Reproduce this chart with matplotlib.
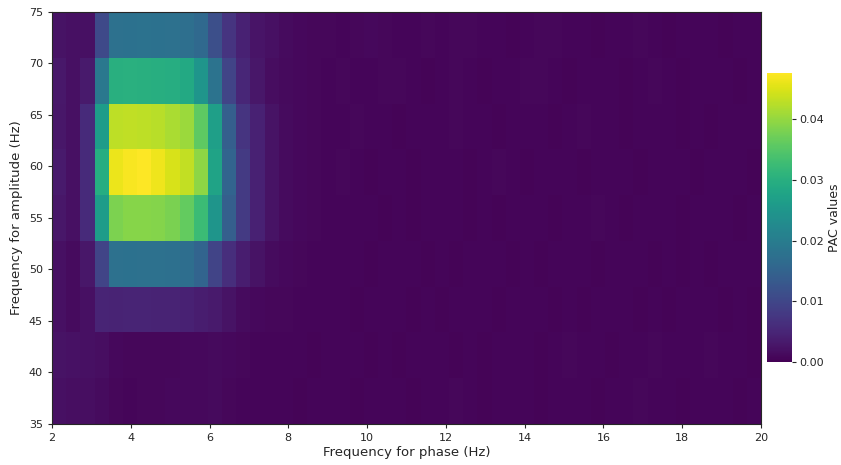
import numpy as np
import matplotlib
matplotlib.use("Agg")
import matplotlib.pyplot as plt

# comodulogram: PAC values (x1e-3), rows = amplitude bands (low -> high), cols = phase bins
pac_row0 = [1.9, 1.8, 1.7, 1.4, 0.8, 0.7, 0.8, 0.9, 1.0, 1.1, 1.0, 1.2, 0.9, 0.7, 0.6,
            0.7, 0.6, 0.5, 0.6, 0.7, 0.6, 0.5, 0.6, 0.7, 0.6, 0.5, 0.6, 0.7, 0.8, 0.6,
            0.5, 0.6, 0.7, 0.6, 0.5, 0.6, 0.7, 0.6, 0.5, 0.6, 0.7, 0.8, 0.7, 0.6, 0.5,
            0.6, 0.7, 0.6, 0.5, 0.6]
pac_row1 = [2.4, 2.2, 2.0, 1.8, 1.0, 0.9, 0.9, 0.8, 0.9, 1.0, 1.1, 1.2, 1.0, 0.8, 0.7,
            0.6, 0.7, 0.6, 0.5, 0.6, 0.7, 0.6, 0.5, 0.6, 0.5, 0.6, 0.7, 0.6, 0.5, 0.6,
            0.5, 0.6, 0.7, 0.6, 0.5, 0.6, 0.8, 0.7, 0.6, 0.5, 0.6, 0.7, 0.8, 0.7, 0.6,
            0.7, 0.8, 0.7, 0.6, 0.5]
pac_row2 = [1.9, 1.4, 1.9, 4.8, 4.6, 4.7, 4.7, 4.6, 4.5, 4.3, 3.8, 3.3, 2.4, 1.4, 1.0,
            0.9, 0.8, 0.7, 0.6, 0.7, 0.6, 0.5, 0.6, 0.7, 0.6, 0.5, 0.6, 0.5, 0.6, 0.7,
            0.6, 0.5, 0.6, 0.7, 0.6, 0.5, 0.6, 0.5, 0.6, 0.7, 0.6, 0.5, 0.6, 0.5, 0.6,
            0.7, 0.6, 0.5, 0.6, 0.5]
pac_row3 = [1.9, 1.4, 2.9, 9.5, 17.6, 17.7, 17.6, 17.5, 17.3, 17.0, 15.2, 9.5, 6.2, 3.8, 2.4,
            1.4, 1.0, 0.8, 0.7, 0.6, 0.7, 0.6, 0.5, 0.6, 0.7, 0.6, 0.5, 0.6, 0.5, 0.6,
            0.7, 0.6, 0.5, 0.6, 0.5, 0.6, 0.7, 0.6, 0.5, 0.6, 0.7, 0.6, 0.5, 0.6, 0.5,
            0.6, 0.5, 0.6, 0.7, 0.6]
pac_row4 = [2.9, 1.9, 5.7, 26.2, 38.3, 39.0, 39.0, 38.8, 38.1, 36.2, 32.4, 24.8, 14.3, 8.1, 4.3,
            2.4, 1.4, 1.0, 0.8, 0.7, 0.6, 0.7, 0.6, 0.5, 0.6, 0.5, 0.6, 0.7, 0.6, 0.5,
            0.6, 0.5, 0.6, 0.7, 0.6, 0.5, 0.6, 0.7, 0.8, 0.6, 0.5, 0.6, 0.7, 0.6, 0.5,
            0.6, 0.7, 0.6, 0.5, 0.6]
pac_row5 = [3.3, 1.9, 5.7, 29.5, 46.2, 47.1, 47.6, 46.4, 44.7, 43.3, 39.5, 27.6, 15.2, 8.1, 4.3,
            2.4, 1.4, 1.0, 0.8, 0.7, 0.8, 0.6, 0.5, 0.7, 0.6, 0.5, 0.6, 0.7, 0.6, 0.5,
            0.6, 0.8, 0.6, 0.5, 0.6, 0.7, 0.6, 0.5, 0.6, 0.7, 0.6, 0.5, 0.6, 0.7, 0.6,
            0.5, 0.6, 0.7, 0.6, 0.5]
pac_row6 = [2.9, 1.9, 5.7, 26.2, 42.8, 43.0, 42.9, 42.5, 41.5, 40.4, 35.7, 26.7, 14.3, 7.1, 4.3,
            2.4, 1.4, 1.0, 0.8, 0.7, 0.6, 0.8, 0.7, 0.6, 0.5, 0.6, 0.7, 0.6, 0.8, 0.7,
            0.6, 0.5, 0.6, 0.7, 0.6, 0.5, 0.6, 0.8, 0.7, 0.6, 0.5, 0.6, 0.7, 0.6, 0.5,
            0.6, 0.5, 0.6, 0.7, 0.6]
pac_row7 = [3.0, 1.9, 3.3, 19.0, 30.0, 30.2, 30.1, 29.9, 29.6, 28.8, 24.8, 18.1, 9.5, 5.2, 2.9,
            1.6, 1.2, 1.0, 0.8, 0.7, 0.8, 0.6, 0.7, 0.9, 0.8, 0.6, 0.5, 0.7, 0.8, 0.6,
            0.5, 0.6, 0.7, 0.9, 0.8, 0.6, 0.5, 0.6, 0.7, 0.6, 0.5, 0.7, 0.8, 0.6, 0.5,
            0.6, 0.7, 0.6, 0.5, 0.6]
pac_row8 = [2.4, 1.9, 2.0, 10.5, 17.6, 17.8, 17.9, 17.7, 17.5, 17.2, 16.0, 11.4, 7.1, 4.3, 2.6,
            1.9, 1.4, 1.1, 0.9, 0.8, 0.7, 0.9, 1.0, 0.8, 0.6, 0.7, 0.8, 0.7, 0.9, 0.8,
            0.6, 0.7, 0.5, 0.6, 0.8, 0.9, 0.7, 0.6, 0.5, 0.6, 0.7, 0.8, 0.6, 0.5, 0.6,
            0.7, 0.6, 0.5, 0.6, 0.7]

pha_range = (2, 20)
amp_range = (35, 75)
xticks = [2, 4, 6, 8, 10, 12, 14, 16, 18, 20]
yticks = [35, 40, 45, 50, 55, 60, 65, 70, 75]
cbar_ticks = [0.00, 0.01, 0.02, 0.03, 0.04]

pac = np.array([pac_row0, pac_row1, pac_row2, pac_row3, pac_row4,
                pac_row5, pac_row6, pac_row7, pac_row8]) / 1000.0

dark = "#262626"
plt.rcParams["font.family"] = "DejaVu Sans"
plt.rcParams["axes.edgecolor"] = dark
plt.rcParams["xtick.color"] = dark
plt.rcParams["ytick.color"] = dark
plt.rcParams["text.color"] = dark
plt.rcParams["axes.labelcolor"] = dark

fig = plt.figure(figsize=(8.41, 4.65), dpi=100)
ax = fig.add_axes([0.0618, 0.0882, 0.843, 0.886])
cax = fig.add_axes([0.9120, 0.2215, 0.030, 0.6215])

x_edges = np.linspace(pha_range[0], pha_range[1], pac.shape[1] + 1)
y_edges = np.linspace(amp_range[0], amp_range[1], pac.shape[0] + 1)
mesh = ax.pcolormesh(x_edges, y_edges, pac, cmap="viridis",
                     vmin=0, vmax=pac.max(), shading="flat")

ax.set_xlim(*pha_range)
ax.set_ylim(*amp_range)
ax.set_xticks(xticks)
ax.set_yticks(yticks)
ax.tick_params(labelsize=8, length=3, width=0.8)
ax.set_xlabel("Frequency for phase (Hz)", fontsize=9.5, labelpad=2)
ax.set_ylabel("Frequency for amplitude (Hz)", fontsize=9.5, labelpad=4)
for sp in ax.spines.values():
    sp.set_linewidth(0.8)

cb = fig.colorbar(mesh, cax=cax)
cb.set_ticks(cbar_ticks)
cb.ax.set_yticklabels(["%.2f" % t for t in cbar_ticks])
cb.ax.tick_params(labelsize=8, length=3, width=0.8, pad=2)
cb.outline.set_visible(False)
cb.set_label("PAC values", fontsize=9, labelpad=3)

fig.savefig("out.png", dpi=100)
